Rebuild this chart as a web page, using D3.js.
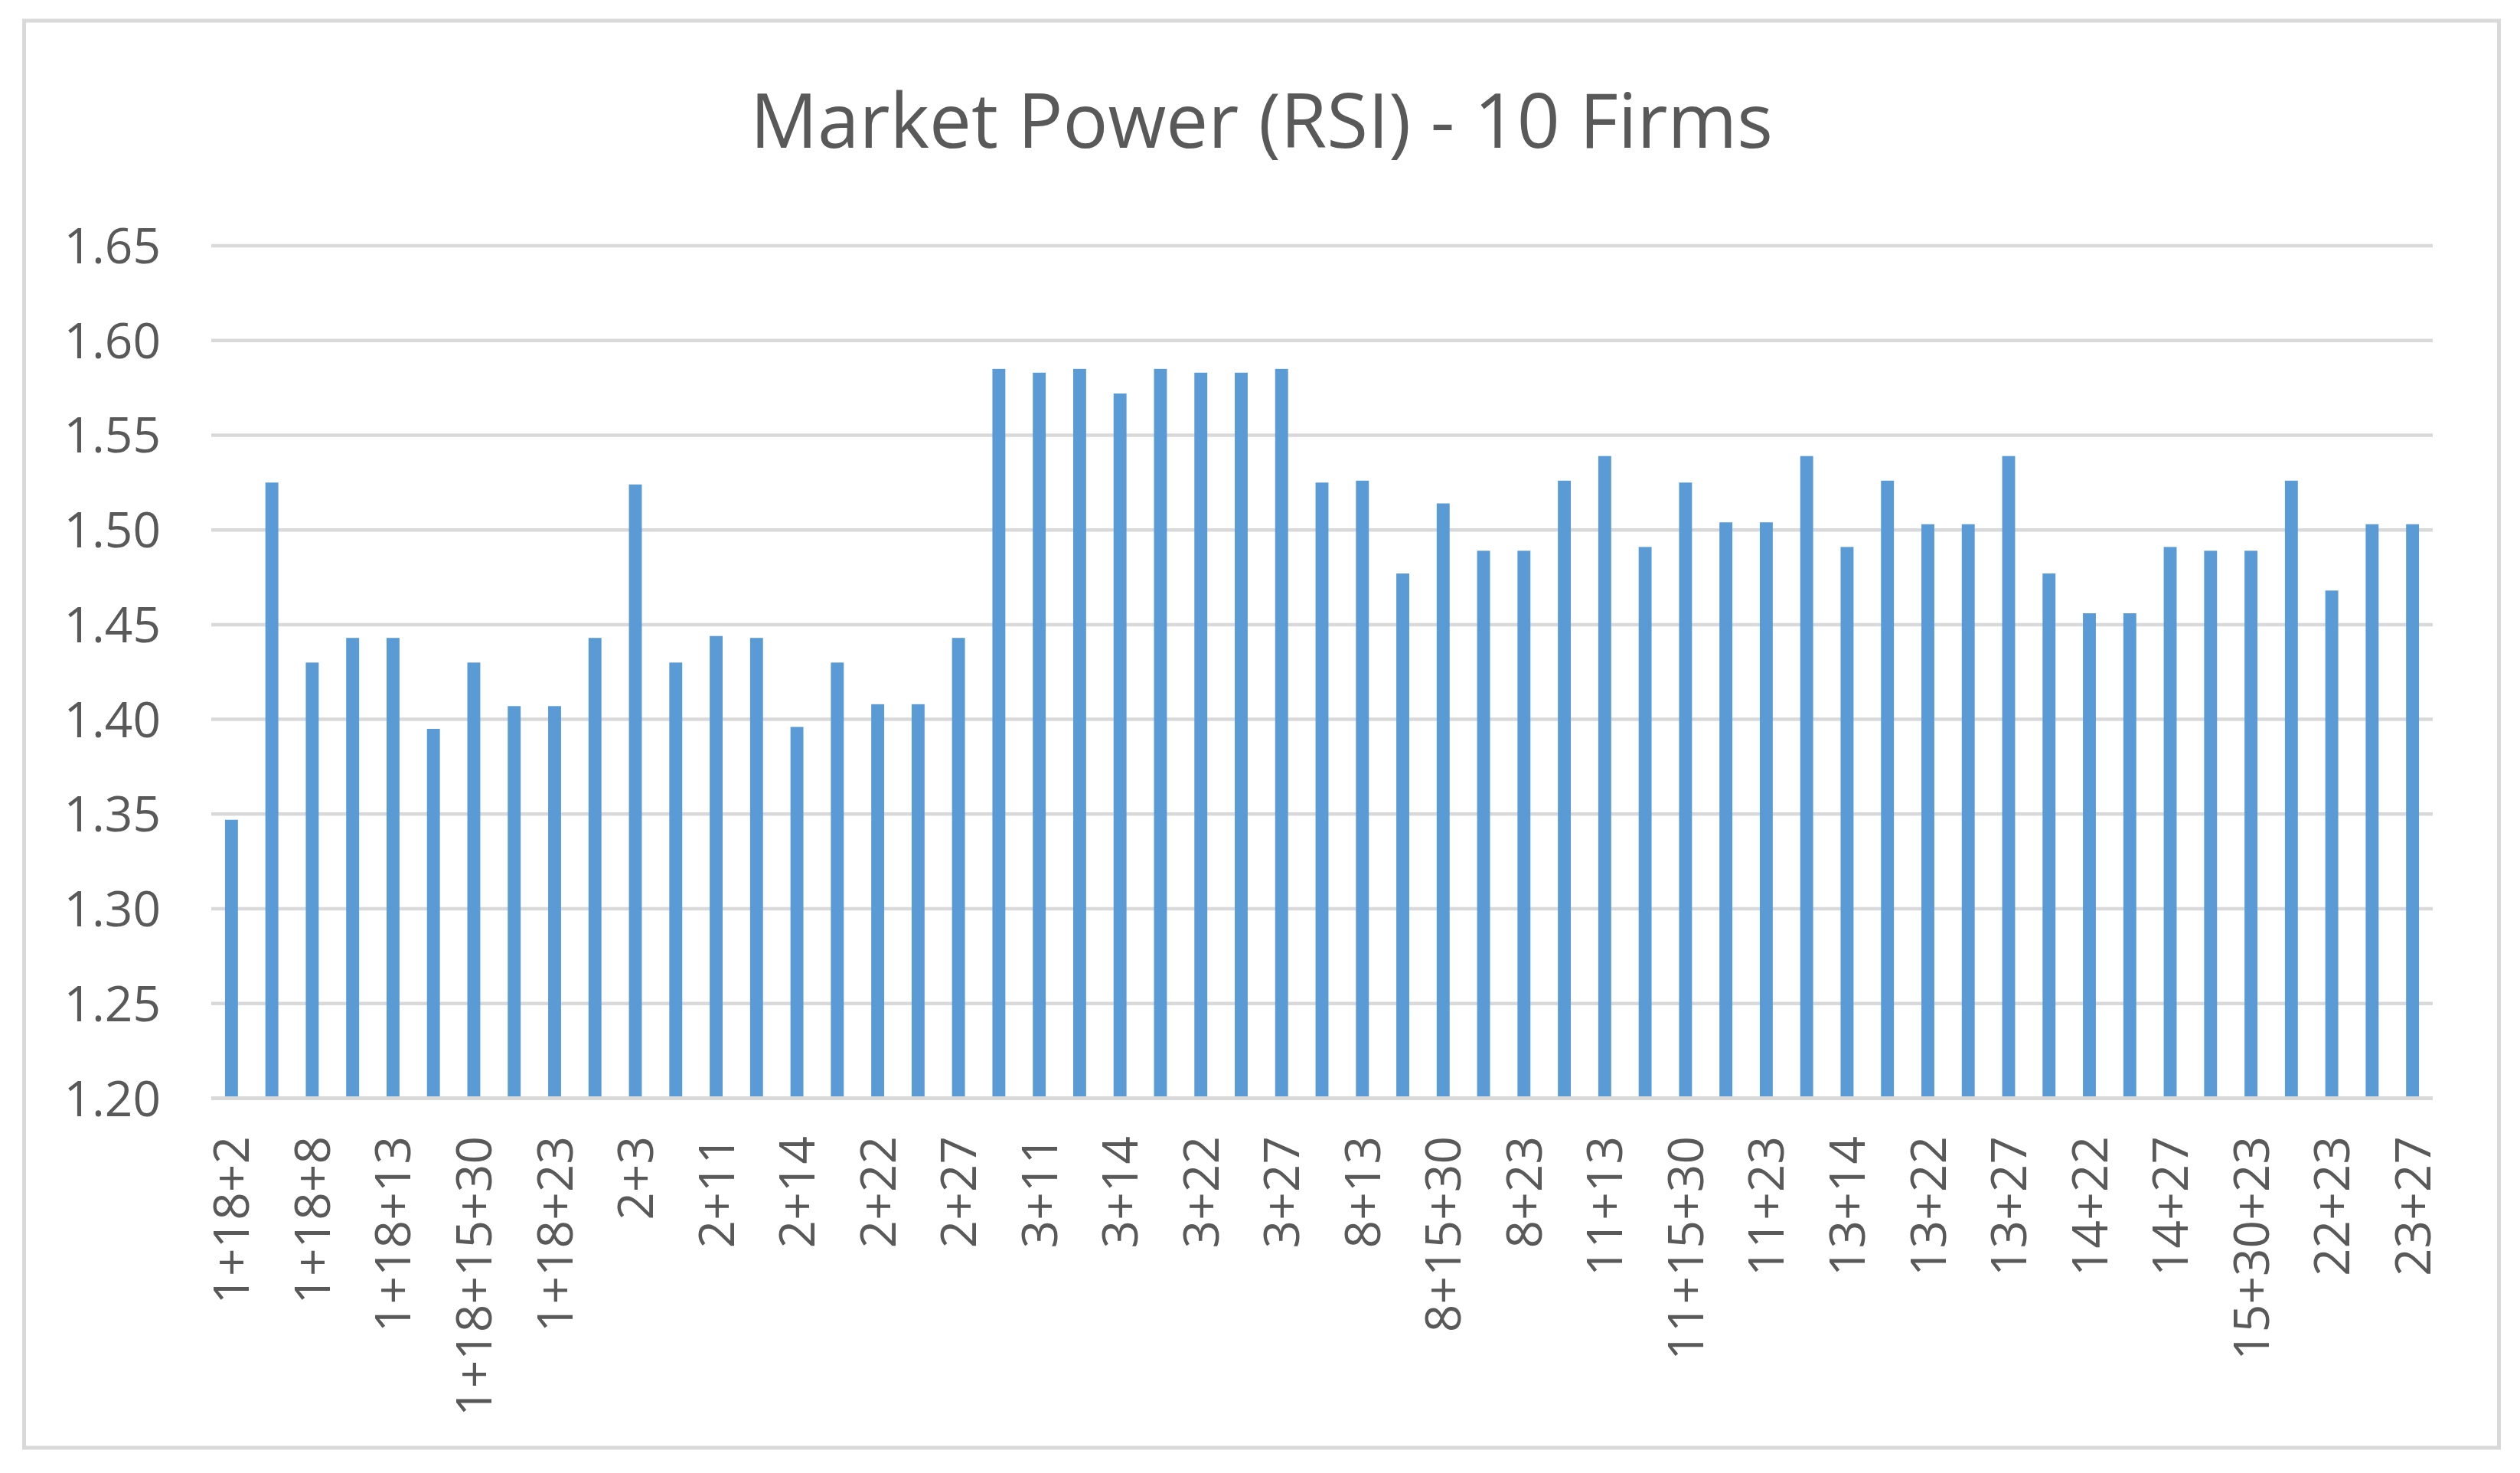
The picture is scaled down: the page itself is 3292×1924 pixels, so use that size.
<!DOCTYPE html>
<html>
<head>
<meta charset="utf-8">
<script src="https://d3js.org/d3.v7.min.js"></script>
<style>
  body { margin: 0; background: #fff; }
  text { font-family: "Open Sans", "Noto Sans", sans-serif; }
</style>
</head>
<body>
<svg id="chart" width="3292" height="1924"></svg>
<script>
const chartTitle = "Market Power (RSI) - 10 Firms"

// firm combinations, in the order shown on the x axis
const categories = [
  "1+18+2", "1+18+3", "1+18+8", "1+18+11", "1+18+13", "1+18+14", "1+18+15+30", "1+18+22", "1+18+23", "1+18+27",
  "2+3", "2+8", "2+11", "2+13", "2+14", "2+15+30", "2+22", "2+23", "2+27",
  "3+8", "3+11", "3+13", "3+14", "3+15+30", "3+22", "3+23", "3+27",
  "8+11", "8+13", "8+14", "8+15+30", "8+22", "8+23", "8+27",
  "11+13", "11+14", "11+15+30", "11+22", "11+23", "11+27",
  "13+14", "13+15+30", "13+22", "13+23", "13+27",
  "14+15+30", "14+22", "14+23", "14+27",
  "15+30+22", "15+30+23", "15+30+27",
  "22+23", "22+27", "23+27"
]

// RSI
const rsiValues = [
  1.347, 1.525, 1.430, 1.443, 1.443, 1.395, 1.430, 1.407, 1.407, 1.443,
  1.524, 1.430, 1.444, 1.443, 1.396, 1.430, 1.408, 1.408, 1.443,
  1.585, 1.583, 1.585, 1.572, 1.585, 1.583, 1.583, 1.585,
  1.525, 1.526, 1.477, 1.514, 1.489, 1.489, 1.526,
  1.539, 1.491, 1.525, 1.504, 1.504, 1.539,
  1.491, 1.526, 1.503, 1.503, 1.539,
  1.477, 1.456, 1.456, 1.491,
  1.489, 1.489, 1.526,
  1.468, 1.503, 1.503
]

const yTicks = [1.20, 1.25, 1.30, 1.35, 1.40, 1.45, 1.50, 1.55, 1.60, 1.65]

const svg = d3.select('#chart')
const width = 3292
const height = 1924
const gridColor = '#d9d9d9'
const textColor = '#595959'
const barColor = '#5b9bd5'

svg.append('rect')
  .attr('width', width).attr('height', height)
  .attr('fill', '#fff')

// chart border
svg.append('rect')
  .attr('x', 31.5).attr('y', 27)
  .attr('width', 3233).attr('height', 1864)
  .attr('fill', 'none')
  .attr('stroke', gridColor)
  .attr('stroke-width', 5)

const plot = { left: 276, right: 3178, top: 321, bottom: 1434.5 }

const x = d3.scaleBand()
  .domain(categories)
  .range([plot.left, plot.right])
  .paddingInner(0.68)
  .paddingOuter(0.34)

const y = d3.scaleLinear()
  .domain([1.20, 1.65])
  .range([plot.bottom, plot.top])

// title
svg.append('text')
  .attr('x', 1648)
  .attr('y', 193)
  .attr('text-anchor', 'middle')
  .style('font-size', '98px')
  .style('fill', textColor)
  .text(chartTitle)

// horizontal gridlines
svg.append('g')
  .selectAll('line')
  .data(yTicks.slice(1))
  .join('line')
    .attr('x1', plot.left).attr('x2', plot.right)
    .attr('y1', d => y(d)).attr('y2', d => y(d))
    .attr('stroke', gridColor)
    .attr('stroke-width', 4.5)

// y axis labels
svg.append('g')
  .selectAll('text')
  .data(yTicks)
  .join('text')
    .attr('x', 210)
    .attr('y', d => y(d))
    .attr('dy', '0.36em')
    .attr('text-anchor', 'end')
    .style('font-size', '64px')
    .style('fill', textColor)
    .text(d => d.toFixed(2))

// bars
svg.append('g')
  .selectAll('rect')
  .data(rsiValues)
  .join('rect')
    .attr('x', (d, i) => x(categories[i]))
    .attr('width', x.bandwidth())
    .attr('y', d => y(d))
    .attr('height', d => y(1.20) - y(d))
    .attr('fill', barColor)

// category axis line
svg.append('line')
  .attr('x1', plot.left).attr('x2', plot.right)
  .attr('y1', y(1.20)).attr('y2', y(1.20))
  .attr('stroke', gridColor)
  .attr('stroke-width', 5)

// x labels, every second category like the original
svg.append('g')
  .selectAll('text')
  .data(categories.filter((c, i) => i % 2 == 0))
  .join('text')
    .attr('transform', d => 'translate(' + (x(d) + x.bandwidth() / 2) + ',' + 1484 + ') rotate(-90)')
    .attr('dy', '0.36em')
    .attr('text-anchor', 'end')
    .style('font-size', '64px')
    .style('fill', textColor)
    .text(d => d)
</script>
</body>
</html>
